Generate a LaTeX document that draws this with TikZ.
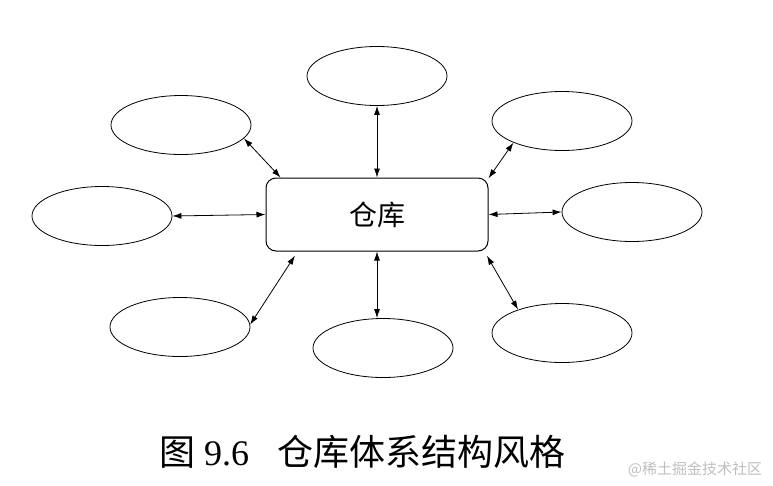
\documentclass[tikz,border=0pt]{standalone}
\usepackage{fontspec}
\setmainfont{Liberation Serif}
\newfontfamily\cjk{Noto Sans CJK SC}
\usetikzlibrary{shapes.geometric,arrows.meta}

\begin{document}
\begin{tikzpicture}[x=1pt, y=-1pt,
		client/.style={draw, ellipse, line width=0.8pt, minimum width=140pt, minimum height=59pt, inner sep=0pt},
		link/.style={{Latex[length=9pt,width=6pt]}-{Latex[length=9pt,width=6pt]}, line width=0.8pt}]
	\useasboundingbox (0,0) rectangle (773,485);

	% WAREHOUSE
	\node[draw, rounded corners=10pt, line width=1pt, minimum width=222pt, minimum height=73pt,
		font=\cjk\fontsize{28}{28}\selectfont] (ware) at (377,214.5) {仓库};

	% CLIENTS
	\node[client] (top) at (377,76) {};
	\node[client] (tl) at (181,125) {};
	\node[client] (tr) at (562,121) {};
	\node[client] (le) at (102,216) {};
	\node[client] (ri) at (632,212) {};
	\node[client] (bl) at (180,327) {};
	\node[client] (bot) at (383,348) {};
	\node[client] (br) at (562,333) {};

	% LINKS
	\draw[link] (top) -- (ware);
	\draw[link] (tl.-12) -- (ware.159);
	\draw[link] (ware.18) -- (tr.204);
	\draw[link] (le.east) -- (ware.west);
	\draw[link] (ware.east) -- (ri.west);
	\draw[link, shorten >=5pt] (bl.2) -- (ware.205.6);
	\draw[link] (ware.south) -- (ware.south |- bot.north);
	\draw[link, shorten <=5pt] (ware.-19.5) -- (br.152.5);

	% CAPTION
	\node[font=\fontsize{36}{36}\selectfont] (cap) at (362,452) {{\cjk 图} 9.6\hspace{28pt}{\cjk 仓库体系结构风格}};
	\node[text=black!25, font=\cjk\fontsize{15}{15}\selectfont] (mark) at (695,469) {@稀土掘金技术社区};
\end{tikzpicture}
\end{document}
